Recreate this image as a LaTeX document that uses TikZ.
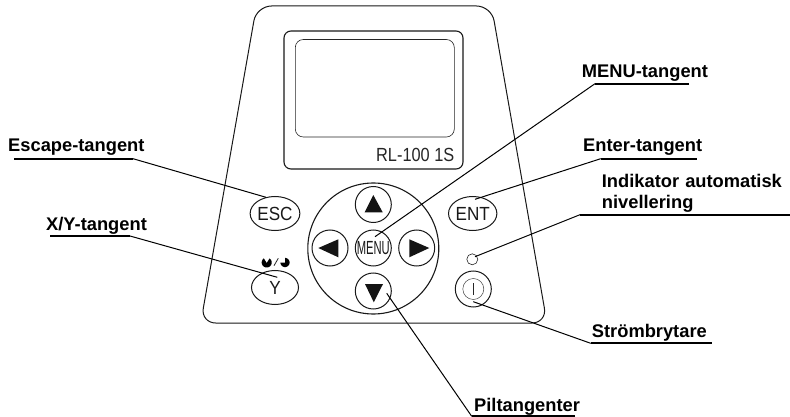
\documentclass[tikz,border=0pt]{standalone}
\usepackage{fontspec}
\setmainfont{Liberation Sans}
\usetikzlibrary{shapes.geometric}
\newcommand{\narrowtxt}[1]{\scalebox{0.86}[1]{#1}}
\newcommand{\ovaltxt}[1]{\scalebox{0.9}[1]{#1}}
\tikzset{
  x=1pt,y=-1pt,
  key/.style={draw=black!90,line width=1pt,circle,minimum size=36pt,inner sep=0pt,fill=white},
  oval/.style={draw=black!90,line width=1pt,ellipse,minimum width=47pt,minimum height=34pt,inner sep=0pt,fill=white,font=\fontsize{19}{19}\selectfont,text=black!90},
  lbl/.style={font=\bfseries\fontsize{18.3}{21}\selectfont,anchor=base west,inner sep=0pt,align=left},
  rule/.style={line width=1.7pt,black},
  lead/.style={line width=1pt,black},
  tri/.style={fill=black!92,draw=none},
}
\begin{document}
\begin{tikzpicture}
\useasboundingbox (0,0) rectangle (790,417);
\fill[white] (0,0) rectangle (790,417);
% housing
\draw[line width=1pt,black!90,rounded corners=15pt] (256.5,6) -- (491.5,6) -- (547,323) -- (200.7,323) -- cycle;
% display
\draw[line width=1.1pt,black!90,rounded corners=7pt] (284,31) rectangle (463,169);
\draw[line width=0.6pt,black!85,rounded corners=8pt] (295.3,39.5) rectangle (454.3,137);
\node[anchor=base east,inner sep=0pt,text=black!85,font=\fontsize{19}{19}\selectfont] (model) at (454.5,161) {\narrowtxt{RL-100 1S}};
% keys
\draw[line width=1.1pt,black!90] (373.3,248.5) circle (65.5);
\node[oval] (esc) at (275,213.5) {\ovaltxt{ESC}};
\node[oval] (ent) at (472.7,213.5) {\ovaltxt{ENT}};
\node[oval] (y) at (275,287.5) {\ovaltxt{Y}};
\node[key] (up) at (373.3,204.5) {};
\node[key] (down) at (373.3,291) {};
\node[key] (left) at (330,248) {};
\node[key] (right) at (416.7,248) {};
\node[key,font=\fontsize{19}{19}\selectfont,text=black!90] (menu) at (373.3,248) {\scalebox{0.59}[1]{MENU}};
\fill[tri] (373.3,195) -- (382.7,212.3) -- (364.6,212.3) -- cycle;
\fill[tri] (373.8,302.3) -- (383,284) -- (365,284) -- cycle;
\fill[tri] (318.3,248) -- (338.3,239.3) -- (338.3,257.3) -- cycle;
\fill[tri] (429.3,248) -- (409.3,239.3) -- (409.3,257.3) -- cycle;
\node[circle,draw=black!85,line width=0.6pt,minimum size=11pt,inner sep=0pt] (led) at (472.3,259.3) {};
\node[key] (pwr) at (473.3,289) {};
\node[circle,draw=black!75,line width=0.5pt,minimum size=21pt,inner sep=0pt] (pwrin) at (473.3,289) {};
\draw[line width=0.5pt,black!85] (473.3,283) -- (473.3,295);
% level icons
\fill[black] (266.7,263) -- plot[domain=-55:235,samples=24] ({266.7+5*cos(\x)},{262.5+5*sin(\x)}) -- cycle;
\fill[black] (285,262.5) -- plot[domain=-90:180,samples=24] ({285+4.6*cos(\x)},{262.5+4.6*sin(\x)}) -- cycle;
\draw[line width=0.8pt,black!85] (274,265.7) -- (278.3,258.3);
% labels
\node[lbl] (lesc) at (8,152) {Escape-tangent};
\coordinate (aesc) at (14,158.7); \coordinate (besc) at (133,158.7); \coordinate (cesc) at (266,197.3);
\draw[rule] (aesc) -- (besc); \draw[lead] (besc) -- (cesc);
\node[lbl] (ly) at (46,230) {X/Y-tangent};
\coordinate (ay) at (50,236); \coordinate (by) at (130,236); \coordinate (cy) at (277.3,277.3);
\draw[rule] (ay) -- (by); \draw[lead] (by) -- (cy);
\node[lbl] (lmenu) at (581.7,77.7) {MENU-tangent};
\coordinate (am) at (689,83.7); \coordinate (bm) at (595,83.7); \coordinate (cm) at (375,236.7);
\draw[rule] (am) -- (bm); \draw[lead] (bm) -- (cm);
\node[lbl] (lent) at (583,151.7) {Enter-tangent};
\coordinate (ae) at (696.7,158.7); \coordinate (be) at (600.7,158.7); \coordinate (ce) at (475,199.3);
\draw[rule] (ae) -- (be); \draw[lead] (be) -- (ce);
\node[lbl,text width=200pt] (lind) at (601.7,187) {Indikator automatisk\\nivellering};
\coordinate (ai) at (790,214.7); \coordinate (bi) at (580,214.7); \coordinate (ci) at (475,256.7);
\draw[rule] (ai) -- (bi); \draw[lead] (bi) -- (ci);
\node[lbl] (lst) at (591.7,337) {Strömbrytare};
\coordinate (as) at (711.7,343.3); \coordinate (bs) at (590.7,343.3); \coordinate (cs) at (473.3,301.7);
\draw[rule] (as) -- (bs); \draw[lead] (bs) -- (cs);
\node[lbl] (lp) at (474,411.7) {Piltangenter};
\coordinate (ap) at (575,416.3); \coordinate (bp) at (471.7,416.3); \coordinate (cp) at (386.7,293.3);
\draw[rule] (ap) -- (bp); \draw[lead] (bp) -- (cp);
\end{tikzpicture}
\end{document}
